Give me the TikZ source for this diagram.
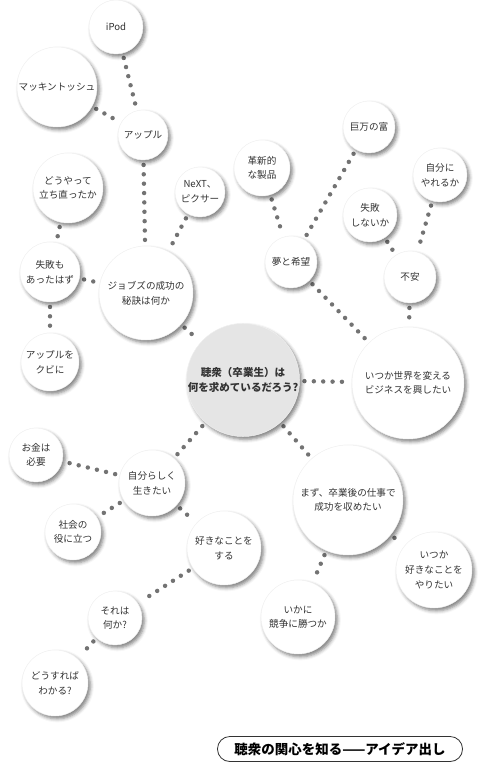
\documentclass[tikz,border=0pt]{standalone}
\usepackage{fontspec}
\setmainfont{Noto Sans CJK JP}
\usepackage{tikz}
\usetikzlibrary{shadows.blur,backgrounds}

\begin{document}
\begin{tikzpicture}[
    x=0.03cm, y=-0.03cm,
    bubble/.style={circle, fill=white, draw=black!6, align=center, inner sep=0pt, text=black!80, font=\fontsize{8.2}{12.5}\selectfont, blur shadow={shadow xshift=2pt, shadow yshift=-2.4pt, shadow blur radius=3pt, shadow opacity=50}},
    rad/.style={minimum size=#1*0.06cm},
    hub/.style={bubble, fill=black!10, font=\bfseries\fontsize{9}{13.5}\selectfont},
    dots/.style={draw=black!55, line width=3.8pt, line cap=round, dash pattern=on 0pt off 8pt, shorten <=4pt, shorten >=4pt},
    banner/.style={draw=black!80, line width=0.7pt, rounded corners=0.37cm, minimum width=7.35cm, minimum height=0.75cm, font=\bfseries\fontsize{11.5}{12}\selectfont}
]
\useasboundingbox (0,0) rectangle (486,771);
% centre
\node[hub, rad=54] (hub) at (243,380) {聴衆（卒業生）は\\何を求めているだろう?};
% Jobs branch
\node[bubble, rad=47] (jobs) at (146,293) {ジョブズの成功の\\秘訣は何か};
\node[bubble, rad=25] (apple) at (143,135) {アップル};
\node[bubble, rad=27] (ipod) at (116,27) {iPod};
\node[bubble, rad=40] (mac) at (57,87) {マッキントッシュ};
\node[bubble, rad=25] (next) at (200,192) {NeXT、\\ピクサー};
\node[bubble, rad=35] (recover) at (68,188) {どうやって\\立ち直ったか};
\node[bubble, rad=30] (fail) at (50,272) {失敗も\\あったはず};
\node[bubble, rad=29] (fired) at (50,362) {アップルを\\クビに};
% business branch
\node[bubble, rad=56] (world) at (408,383) {いつか世界を変える\\ビジネスを興したい};
\node[bubble, rad=26] (dream) at (291,262) {夢と希望};
\node[bubble, rad=28] (product) at (262,168) {革新的\\な製品};
\node[bubble, rad=26] (wealth) at (369,127) {巨万の富};
\node[bubble, rad=26] (worry) at (410,277) {不安};
\node[bubble, rad=27] (nofail) at (370,215) {失敗\\しないか};
\node[bubble, rad=27] (cando) at (440,175) {自分に\\やれるか};
% self branch
\node[bubble, rad=33] (self) at (152,483) {自分らしく\\生きたい};
\node[bubble, rad=27] (money) at (36,455) {お金は\\必要};
\node[bubble, rad=28] (society) at (73,532) {社会の\\役に立つ};
\node[bubble, rad=37] (like) at (224,548) {好きなことを\\する};
\node[bubble, rad=27] (what) at (115,618) {それは\\何か?};
\node[bubble, rad=33] (how) at (55,683) {どうすれば\\わかる?};
% career branch
\node[bubble, rad=55] (career) at (348,500) {まず、卒業後の仕事で\\成功を収めたい};
\node[bubble, rad=38] (someday) at (434,570) {いつか\\好きなことを\\やりたい};
\node[bubble, rad=37] (compete) at (298,617) {いかに\\競争に勝つか};
% caption
\node[banner] (title) at (340,749) {聴衆の関心を知る——アイデア出し};
\begin{scope}[on background layer]
\draw[dots] (ipod) -- (apple);
\draw[dots] (mac) -- (apple);
\draw[dots] (apple) -- (jobs);
\draw[dots] (next) -- (jobs);
\draw[dots] (recover) -- (fail);
\draw[dots] (fail) -- (jobs);
\draw[dots] (fail) -- (fired);
\draw[dots] (jobs) -- (hub);
\draw[dots] (hub) -- (world);
\draw[dots] (product) -- (dream);
\draw[dots] (wealth) -- (dream);
\draw[dots] (dream) -- (world);
\draw[dots] (nofail) -- (worry);
\draw[dots] (cando) -- (worry);
\draw[dots] (worry) -- (world);
\draw[dots] (hub) -- (self);
\draw[dots] (self) -- (money);
\draw[dots] (self) -- (society);
\draw[dots] (self) -- (like);
\draw[dots] (like) -- (what);
\draw[dots] (what) -- (how);
\draw[dots] (hub) -- (career);
\draw[dots] (career) -- (someday);
\draw[dots] (career) -- (compete);
\end{scope}
\end{tikzpicture}
\end{document}
